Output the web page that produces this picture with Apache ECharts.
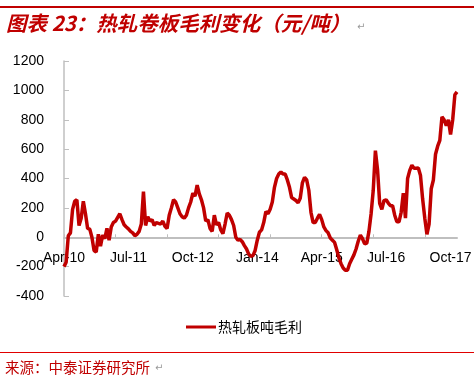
<!DOCTYPE html>
<html>
<head>
<meta charset="utf-8">
<script src="https://cdn.jsdelivr.net/npm/echarts@6/dist/echarts.min.js"></script>
<style>
html, body { margin: 0; padding: 0; background: #fff; }
#chart { width: 474px; height: 378px; }
</style>
</head>
<body>
<div id="chart"></div>
<script>
// 热轧板吨毛利, semi-monthly readings from Apr-10 to Nov-17 (元/吨)
const margin = [
	-200, -170, 10, 30, 190, 245, 255, 80, 130, 245,
	160, 60, 55, 0, -90, -100, 20, -60, 15, -10,
	60, -20, 70, 100, 110, 135, 160, 120, 85, 70,
	57, 40, 30, 10, 20, 40, 90, 310, 80, 140,
	110, 120, 80, 100, 95, 90, 110, 75, 60, 150,
	200, 255, 240, 200, 160, 140, 130, 150, 200, 240,
	300, 280, 355, 295, 255, 200, 110, 120, 60, 40,
	150, 85, 100, 50, 25, 90, 165, 150, 120, 80,
	0, -20, -15, -30, -57, -80, -115, -130, -125, -90,
	-20, 34, 50, 100, 175, 160, 190, 240, 340, 400,
	430, 445, 430, 430, 390, 340, 270, 260, 250, 235,
	265, 370, 408, 390, 320, 170, 100, 100, 130, 155,
	120, 70, 45, 30, -5, -20, -35, -85, -140, -180,
	-210, -225, -225, -180, -150, -120, -80, -27, 15, -10,
	-45, -40, 40, 160, 320, 590, 460, 230, 190, 250,
	255, 233, 215, 215, 150, 105, 105, 170, 300, 130,
	400, 455, 490, 470, 470, 472, 420, 260, 130, 20,
	90, 330, 390, 565, 620, 660, 820, 800, 760, 800,
	700, 800, 970, 990
];

const tickLabels = [ 'Apr-10', 'Jul-11', 'Oct-12', 'Jan-14', 'Apr-15', 'Jul-16', 'Oct-17' ];
const yTicks = [ -400, 1200, 200 ]; // min, max, step

// one category per half month, starting 1 Apr 2010
const categories = [];
for ( let i = 0; i < margin.length; i++ ) {
	const m = 3 + Math.floor( i / 2 );
	const y = 2010 + Math.floor( m / 12 );
	const mm = String( ( m % 12 ) + 1 ).padStart( 2, '0' );
	categories.push( y + '-' + mm + ( i % 2 ? '-16' : '-01' ) );
}

const RED = '#c00000';
const GREY = '#bfbfbf';
const LATIN = '"Liberation Sans", Arial, sans-serif';
const CJK = '"Noto Sans CJK SC", sans-serif';

const chart = echarts.init( document.getElementById( 'chart' ), null, { renderer: 'canvas' } );

chart.setOption( {
	animation: false,
	backgroundColor: '#fff',
	title: {
		text: '图表 23：热轧卷板毛利变化（元/吨）',
		left: 6,
		top: 13,
		padding: 0,
		textStyle: {
			fontFamily: CJK,
			fontSize: 20.5,
			fontStyle: 'italic',
			fontWeight: 'bold',
			color: RED
		}
	},
	graphic: [
		{ type: 'rect', shape: { x: 0, y: 6, width: 474, height: 2 }, style: { fill: RED } },
		{ type: 'rect', shape: { x: 0, y: 352, width: 474, height: 1 }, style: { fill: '#e00000' } },
		{
			type: 'text', left: 5, top: 360,
			style: { text: '来源：中泰证券研究所', font: '14.5px ' + CJK, fill: RED }
		},
		{
			type: 'text', left: 155, top: 363,
			style: { text: '↵', font: '10px "DejaVu Sans"', fill: '#999' }
		},
		{
			type: 'text', left: 357, top: 22,
			style: { text: '↵', font: '10px "DejaVu Sans"', fill: '#999' }
		}
	],
	legend: {
		left: 181,
		top: 315,
		icon: 'rect',
		itemWidth: 30,
		itemHeight: 3,
		textStyle: { fontFamily: CJK, fontSize: 14, color: '#000', padding: [ 0, 0, 0, -3 ] }
	},
	grid: {
		left: 64,
		right: 17,
		top: 61,
		bottom: 82,
		outerBoundsMode: 'none'
	},
	xAxis: {
		type: 'category',
		boundaryGap: false,
		data: categories,
		axisLine: { onZero: true, lineStyle: { color: GREY, width: 2 } },
		axisTick: { inside: true, length: 3, interval: 23, lineStyle: { color: GREY } },
		axisLabel: {
			interval: 29,
			margin: -45,
			fontFamily: LATIN,
			fontSize: 14,
			color: '#000',
			formatter: ( value ) => tickLabels[ categories.indexOf( value ) / 30 ]
		},
		splitLine: { show: false }
	},
	yAxis: {
		type: 'value',
		min: yTicks[ 0 ],
		max: yTicks[ 1 ],
		interval: yTicks[ 2 ],
		axisLine: { show: true, lineStyle: { color: GREY, width: 1.5 } },
		axisTick: { show: true, inside: true, length: 5, lineStyle: { color: GREY } },
		axisLabel: {
			margin: 20,
			fontFamily: LATIN,
			fontSize: 14,
			color: '#000',
			formatter: ( v ) => String( v )
		},
		splitLine: { show: false }
	},
	series: [ {
		name: '热轧板吨毛利',
		type: 'line',
		data: margin,
		showSymbol: false,
		color: RED,
		lineStyle: { color: RED, width: 3.5 }
	} ]
} );
</script>
</body>
</html>
